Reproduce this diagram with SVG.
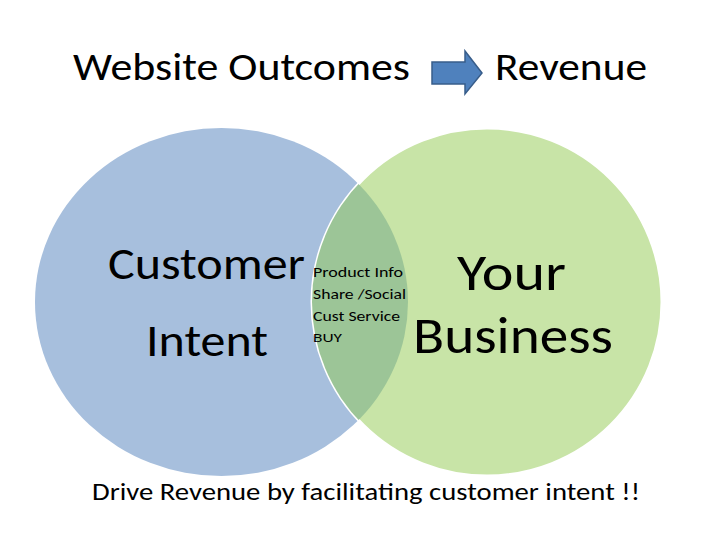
<svg xmlns="http://www.w3.org/2000/svg" width="720" height="540" viewBox="0 0 720 540">
<style>
text{font-family:Calibri,"Liberation Sans",Carlito,sans-serif;fill:#000}
</style>
<defs>
<clipPath id="blueClip"><ellipse cx="221.5" cy="302" rx="186.5" ry="174"/></clipPath>
</defs>
<rect width="720" height="540" fill="#fff"/>
<g id="title">
<text x="73" y="80" font-size="38" textLength="337" lengthAdjust="spacingAndGlyphs">Website Outcomes</text>
<text x="495" y="80" font-size="38" textLength="152" lengthAdjust="spacingAndGlyphs">Revenue</text>
</g>
<g id="connectors">
<polygon points="432,62 465,62 465,51 482,73 465,94 465,84 432,84" fill="#4f81bd" stroke="#385d8a" stroke-width="1.5"/>
</g>
<g id="customer">
<ellipse cx="221.5" cy="302" rx="186.5" ry="174" fill="#a7bfdd"/>
</g>
<g id="business">
<ellipse cx="487" cy="302" rx="175" ry="174" fill="#c8e4a7" stroke="#fff" stroke-width="3"/>
<ellipse cx="487" cy="302" rx="175" ry="174" fill="#9cc597" clip-path="url(#blueClip)"/>
</g>
<g id="labels">
<text x="108" y="279" font-size="46" textLength="197" lengthAdjust="spacingAndGlyphs">Customer</text>
<text x="146" y="356" font-size="46" textLength="122" lengthAdjust="spacingAndGlyphs">Intent</text>
<text x="457" y="290" font-size="52" textLength="109" lengthAdjust="spacingAndGlyphs">Your</text>
<text x="413" y="353" font-size="52" textLength="200" lengthAdjust="spacingAndGlyphs">Business</text>
<g id="intersection">
<text x="313" y="277" font-size="14" textLength="90" lengthAdjust="spacingAndGlyphs">Product Info</text>
<text x="313" y="299" font-size="14" textLength="93" lengthAdjust="spacingAndGlyphs">Share /Social</text>
<text x="313" y="321" font-size="14" textLength="87" lengthAdjust="spacingAndGlyphs">Cust Service</text>
<text x="313" y="342" font-size="13" textLength="29" lengthAdjust="spacingAndGlyphs">BUY</text>
</g>
<text x="92" y="500" font-size="24" textLength="548" lengthAdjust="spacingAndGlyphs">Drive Revenue by facilitating customer intent !!</text>
</g>
</svg>
